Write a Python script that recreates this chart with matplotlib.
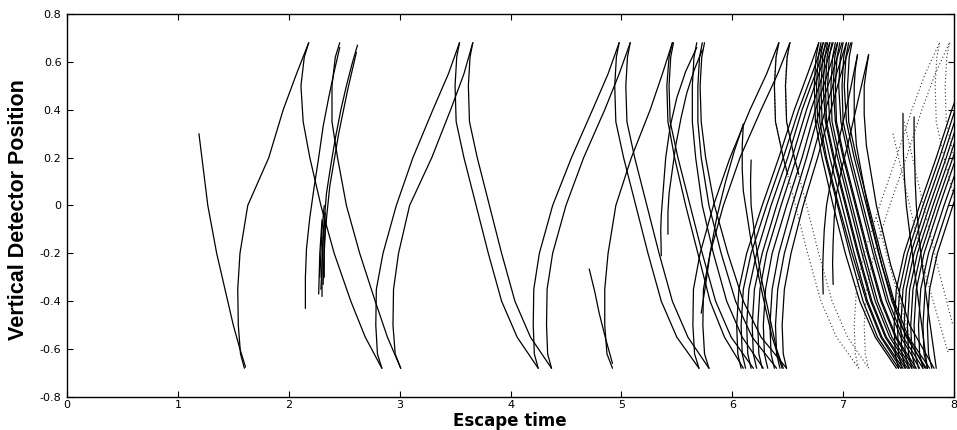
import matplotlib
matplotlib.use("Agg")
import matplotlib.pyplot as plt

# Detector heights at which each full branch is sampled
RISE_Y = [-0.68, -0.62, -0.5, -0.35, -0.2, 0.0, 0.2, 0.4, 0.55, 0.68]
FALL_Y = [0.68, 0.62, 0.5, 0.35, 0.2, 0.0, -0.2, -0.4, -0.55, -0.68]

# Escape times of the rising branches at the RISE_Y heights
rising = [
    [1.60, 1.565, 1.545, 1.54, 1.56, 1.63, 1.82, 1.95, 2.07, 2.18],
    [2.84, 2.80, 2.785, 2.79, 2.85, 2.97, 3.12, 3.30, 3.44, 3.54],
    [3.01, 2.96, 2.94, 2.945, 2.99, 3.09, 3.29, 3.46, 3.58, 3.66],
    [4.25, 4.215, 4.205, 4.21, 4.26, 4.38, 4.55, 4.74, 4.88, 4.98],
    [4.37, 4.335, 4.325, 4.33, 4.38, 4.50, 4.66, 4.85, 4.98, 5.08],
    [4.92, 4.87, 4.85, 4.85, 4.88, 4.95, 5.09, 5.26, 5.37, 5.46],
    [5.70, 5.66, 5.645, 5.65, 5.71, 5.83, 5.98, 6.16, 6.31, 6.42],
    [5.79, 5.75, 5.735, 5.74, 5.80, 5.92, 6.07, 6.26, 6.41, 6.52],
    [6.08, 6.05, 6.04, 6.06, 6.13, 6.27, 6.42, 6.56, 6.68, 6.78],
    [6.12, 6.09, 6.08, 6.10, 6.17, 6.31, 6.46, 6.60, 6.72, 6.82],
    [6.17, 6.14, 6.13, 6.15, 6.22, 6.35, 6.50, 6.63, 6.75, 6.85],
    [6.22, 6.19, 6.18, 6.20, 6.27, 6.40, 6.54, 6.67, 6.78, 6.88],
    [6.27, 6.24, 6.23, 6.25, 6.31, 6.44, 6.58, 6.71, 6.82, 6.91],
    [6.32, 6.29, 6.28, 6.30, 6.36, 6.49, 6.63, 6.75, 6.86, 6.95],
    [6.38, 6.35, 6.34, 6.36, 6.42, 6.54, 6.67, 6.79, 6.90, 6.99],
    [6.43, 6.40, 6.39, 6.41, 6.47, 6.59, 6.72, 6.84, 6.94, 7.03],
    [6.49, 6.46, 6.45, 6.47, 6.53, 6.64, 6.77, 6.89, 6.98, 7.07],
    [7.50, 7.47, 7.46, 7.48, 7.55, 7.69, 7.84, 7.98, 8.10, 8.20],
    [7.53, 7.50, 7.49, 7.51, 7.58, 7.72, 7.87, 8.01, 8.13, 8.23],
    [7.56, 7.53, 7.52, 7.54, 7.61, 7.75, 7.90, 8.04, 8.16, 8.26],
    [7.59, 7.56, 7.55, 7.57, 7.64, 7.78, 7.93, 8.07, 8.19, 8.29],
    [7.62, 7.59, 7.58, 7.60, 7.67, 7.81, 7.96, 8.10, 8.22, 8.32],
    [7.65, 7.62, 7.61, 7.63, 7.70, 7.84, 7.99, 8.13, 8.25, 8.35],
    [7.68, 7.65, 7.64, 7.66, 7.73, 7.87, 8.02, 8.16, 8.28, 8.38],
    [7.72, 7.69, 7.68, 7.70, 7.77, 7.91, 8.06, 8.20, 8.32, 8.42],
    [7.76, 7.73, 7.72, 7.74, 7.81, 7.95, 8.10, 8.24, 8.36, 8.46],
    [7.80, 7.77, 7.76, 7.78, 7.85, 7.99, 8.14, 8.28, 8.40, 8.50],
]

# Escape times of the falling branches at the FALL_Y heights
falling = [
    [2.18, 2.14, 2.11, 2.13, 2.19, 2.29, 2.41, 2.56, 2.69, 2.84],
    [2.46, 2.42, 2.39, 2.39, 2.44, 2.52, 2.64, 2.78, 2.89, 3.01],
    [3.54, 3.515, 3.50, 3.51, 3.58, 3.69, 3.80, 3.92, 4.06, 4.25],
    [3.66, 3.635, 3.62, 3.63, 3.70, 3.81, 3.92, 4.04, 4.18, 4.37],
    [4.98, 4.955, 4.94, 4.95, 5.02, 5.13, 5.24, 5.36, 5.50, 5.70],
    [5.08, 5.055, 5.04, 5.05, 5.12, 5.23, 5.34, 5.46, 5.60, 5.79],
    [5.46, 5.43, 5.41, 5.42, 5.48, 5.58, 5.69, 5.80, 5.93, 6.10],
    [5.47, 5.445, 5.43, 5.44, 5.51, 5.62, 5.73, 5.85, 5.99, 6.19],
    [5.68, 5.655, 5.64, 5.64, 5.67, 5.73, 5.83, 5.95, 6.09, 6.28],
    [5.73, 5.705, 5.69, 5.69, 5.72, 5.79, 5.90, 6.03, 6.18, 6.40],
    [5.75, 5.725, 5.71, 5.72, 5.76, 5.84, 5.96, 6.10, 6.26, 6.49],
    [6.78, 6.755, 6.74, 6.75, 6.81, 6.91, 7.02, 7.15, 7.29, 7.48],
    [6.80, 6.775, 6.76, 6.77, 6.84, 6.95, 7.06, 7.18, 7.31, 7.50],
    [6.82, 6.795, 6.78, 6.79, 6.85, 6.96, 7.08, 7.21, 7.34, 7.52],
    [6.84, 6.815, 6.80, 6.81, 6.88, 6.99, 7.10, 7.22, 7.35, 7.54],
    [6.86, 6.835, 6.82, 6.84, 6.91, 7.02, 7.13, 7.25, 7.38, 7.56],
    [6.88, 6.855, 6.84, 6.85, 6.92, 7.03, 7.14, 7.26, 7.39, 7.58],
    [6.90, 6.875, 6.86, 6.88, 6.95, 7.06, 7.17, 7.29, 7.42, 7.60],
    [6.93, 6.905, 6.89, 6.90, 6.97, 7.08, 7.19, 7.31, 7.44, 7.62],
    [6.95, 6.925, 6.91, 6.93, 7.00, 7.11, 7.22, 7.34, 7.47, 7.64],
    [6.97, 6.945, 6.93, 6.94, 7.01, 7.12, 7.23, 7.35, 7.48, 7.66],
    [7.00, 6.975, 6.96, 6.98, 7.05, 7.16, 7.27, 7.39, 7.52, 7.69],
    [7.03, 7.005, 6.99, 7.00, 7.07, 7.18, 7.29, 7.41, 7.54, 7.72],
    [7.05, 7.025, 7.01, 7.03, 7.10, 7.21, 7.32, 7.44, 7.57, 7.75],
    [7.08, 7.055, 7.04, 7.05, 7.12, 7.23, 7.34, 7.46, 7.59, 7.78],
]

# Faint (dotted) branches
rising_dotted = [
    [7.14, 7.11, 7.10, 7.12, 7.19, 7.33, 7.48, 7.62, 7.74, 7.87],
    [7.23, 7.20, 7.19, 7.21, 7.28, 7.42, 7.57, 7.71, 7.83, 7.96],
]
falling_dotted = [
    [6.42, 6.395, 6.38, 6.39, 6.46, 6.57, 6.68, 6.80, 6.94, 7.14],
    [6.52, 6.495, 6.48, 6.49, 6.56, 6.67, 6.78, 6.90, 7.04, 7.23],
    [7.87, 7.845, 7.83, 7.84, 7.91, 8.02, 8.13, 8.25, 8.39, 8.58],
    [7.96, 7.935, 7.92, 7.93, 8.00, 8.11, 8.22, 8.34, 8.48, 8.67],
]

# Branches that start or stop inside the detector, as (time, position) pairs
partial_solid = [
    [(1.19, 0.30), (1.23, 0.15), (1.27, 0.0), (1.31, -0.10), (1.35, -0.20),
     (1.40, -0.30), (1.45, -0.40), (1.50, -0.50), (1.56, -0.60), (1.61, -0.675)],
    [(2.15, -0.43), (2.15, -0.30), (2.16, -0.18), (2.19, -0.05), (2.23, 0.08),
     (2.27, 0.20), (2.31, 0.33), (2.36, 0.45), (2.41, 0.56), (2.46, 0.66)],
    [(2.30, -0.38), (2.30, -0.25), (2.31, -0.12), (2.34, 0.05), (2.38, 0.17),
     (2.42, 0.28), (2.47, 0.40), (2.52, 0.50), (2.57, 0.59), (2.62, 0.67)],
    [(2.32, -0.30), (2.32, -0.20), (2.33, -0.10), (2.37, 0.08), (2.45, 0.30),
     (2.53, 0.48), (2.61, 0.64)],
    [(2.27, -0.37), (2.28, -0.20), (2.30, -0.06)],
    [(2.29, -0.35), (2.31, -0.15), (2.33, -0.03)],
    [(2.31, -0.33), (2.32, -0.16), (2.34, -0.05)],
    [(2.28, -0.30), (2.30, -0.10), (2.32, 0.0)],
    [(4.71, -0.265), (4.76, -0.36), (4.80, -0.45), (4.86, -0.56), (4.92, -0.66)],
    [(5.36, -0.21), (5.355, -0.10), (5.36, -0.04), (5.38, 0.08), (5.40, 0.20),
     (5.44, 0.33), (5.50, 0.45), (5.58, 0.56), (5.68, 0.66)],
    [(5.42, -0.12), (5.42, -0.03), (5.43, 0.05), (5.46, 0.15), (5.49, 0.25),
     (5.54, 0.37), (5.59, 0.47), (5.66, 0.57), (5.73, 0.65)],
    [(5.72, -0.45), (5.76, -0.33), (5.80, -0.20), (5.86, -0.05), (5.94, 0.10),
     (6.02, 0.23), (6.10, 0.34)],
    [(6.10, 0.34), (6.09, 0.25), (6.09, 0.15), (6.10, 0.06), (6.12, 0.0),
     (6.17, -0.15), (6.24, -0.30), (6.30, -0.43), (6.36, -0.55), (6.45, -0.68)],
    [(6.17, 0.19), (6.165, 0.10), (6.17, 0.0), (6.21, -0.15), (6.26, -0.30),
     (6.33, -0.45), (6.40, -0.60), (6.46, -0.68)],
    [(6.82, -0.37), (6.815, -0.28), (6.82, -0.20), (6.83, -0.10), (6.85, 0.0),
     (6.90, 0.13), (6.95, 0.25), (7.05, 0.45), (7.13, 0.63)],
    [(6.91, -0.33), (6.905, -0.24), (6.91, -0.15), (6.92, -0.05), (6.94, 0.05),
     (6.99, 0.16), (7.04, 0.25), (7.14, 0.45), (7.23, 0.63)],
    [(7.13, 0.63), (7.11, 0.57), (7.10, 0.50), (7.10, 0.38), (7.12, 0.25),
     (7.22, 0.0), (7.35, -0.25), (7.52, -0.50), (7.74, -0.68)],
    [(7.23, 0.63), (7.21, 0.57), (7.19, 0.50), (7.19, 0.38), (7.21, 0.25),
     (7.30, 0.0), (7.43, -0.25), (7.60, -0.50), (7.82, -0.68)],
    [(7.54, 0.385), (7.54, 0.30), (7.545, 0.20), (7.555, 0.10), (7.57, 0.0),
     (7.61, -0.15), (7.68, -0.40), (7.76, -0.68)],
    [(7.64, 0.37), (7.64, 0.28), (7.645, 0.20), (7.65, 0.10), (7.66, 0.0),
     (7.70, -0.20), (7.77, -0.45), (7.84, -0.68)],
    [(6.42, 0.68), (6.395, 0.62), (6.38, 0.50), (6.39, 0.35), (6.46, 0.20), (6.50, 0.13)],
    [(6.52, 0.68), (6.495, 0.62), (6.48, 0.50), (6.49, 0.35), (6.56, 0.20), (6.60, 0.13)],
]
partial_dotted = [
    [(7.45, 0.30), (7.60, 0.0), (7.75, -0.30), (7.95, -0.62)],
    [(7.55, 0.35), (7.70, 0.05), (7.85, -0.25), (7.99, -0.50)],
    [(7.30, -0.05), (7.45, -0.30), (7.60, -0.55), (7.68, -0.66)],
]

x_ticks = [0, 1, 2, 3, 4, 5, 6, 7, 8]
y_ticks = [-0.8, -0.6, -0.4, -0.2, 0.0, 0.2, 0.4, 0.6, 0.8]
y_tick_labels = ["-0.8", "-0.6", "-0.4", "-0.2", "0", "0.2", "0.4", "0.6", "0.8"]

fig = plt.figure(figsize=(9.57, 4.30), dpi=100)
ax = fig.add_axes([67 / 957, 33 / 430, 887 / 957, 383 / 430])

solid = dict(color="black", lw=0.9, solid_capstyle="round", solid_joinstyle="round")
faint = dict(color="#333333", lw=0.8, linestyle=(0, (1, 2.2)))

for xs in rising:
    ax.plot(xs, RISE_Y, **solid)
for xs in falling:
    ax.plot(xs, FALL_Y, **solid)
for xs in rising_dotted:
    ax.plot(xs, RISE_Y, **faint)
for xs in falling_dotted:
    ax.plot(xs, FALL_Y, **faint)
for seg in partial_solid:
    ax.plot([p[0] for p in seg], [p[1] for p in seg], **solid)
for seg in partial_dotted:
    ax.plot([p[0] for p in seg], [p[1] for p in seg], **faint)

ax.set_xlim(0, 8)
ax.set_ylim(-0.8, 0.8)
ax.set_xticks(x_ticks)
ax.set_yticks(y_ticks)
ax.set_yticklabels(y_tick_labels)
ax.tick_params(direction="in", length=4.5, width=0.8, top=True, right=True,
               labelsize=8)
ax.tick_params(axis="x", pad=2.5)
ax.tick_params(axis="y", pad=4)
for s in ax.spines.values():
    s.set_linewidth(1.0)

# Axis titles placed in figure pixels
fig.text(510 / 957, 1 - 421 / 430, "Escape time", fontsize=12, fontweight="bold",
         family=["DejaVu Sans"], ha="center", va="center")
fig.text(19 / 957, 1 - 210 / 430, "Vertical Detector Position", fontsize=15.5,
         fontweight="bold", family=["Liberation Sans", "DejaVu Sans"],
         rotation=90, ha="center", va="center")

fig.savefig("out.png", dpi=100)
